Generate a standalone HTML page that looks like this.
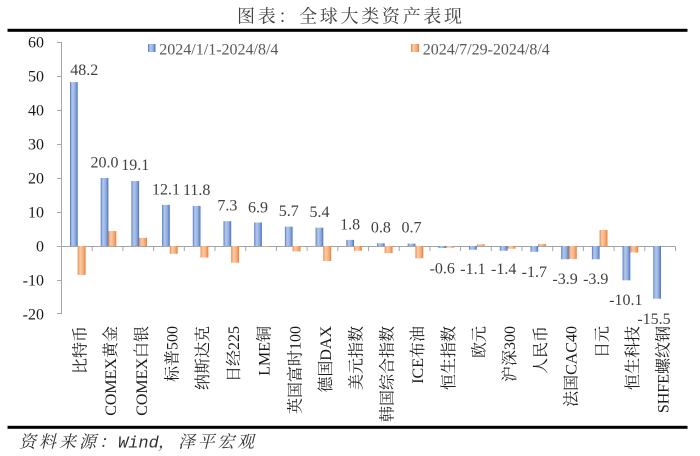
<!DOCTYPE html>
<html><head><meta charset="utf-8"><style>
html,body{margin:0;padding:0;background:#fff;}
svg{display:block;}
</style></head><body>
<svg width="700" height="456" viewBox="0 0 700 456" xmlns="http://www.w3.org/2000/svg">
<defs>
<linearGradient id="gb" x1="0" y1="0" x2="1" y2="0">
<stop offset="0" stop-color="#4472C4"/><stop offset="0.18" stop-color="#9BB4E3"/><stop offset="0.35" stop-color="#B4C7EA"/><stop offset="0.7" stop-color="#8EA9DB"/><stop offset="1" stop-color="#4472C4"/>
</linearGradient>
<linearGradient id="go" x1="0" y1="0" x2="1" y2="0">
<stop offset="0" stop-color="#ED7D31"/><stop offset="0.18" stop-color="#F7B88C"/><stop offset="0.35" stop-color="#F9C9A6"/><stop offset="0.7" stop-color="#F4AC7A"/><stop offset="1" stop-color="#ED7D31"/>
</linearGradient>
</defs>
<rect width="700" height="456" fill="#fff"/>
<!-- title -->
<text x="237" y="22.5" font-family="'Noto Serif CJK SC','Noto Sans CJK SC',serif" font-size="18" fill="#404040" textLength="225" lengthAdjust="spacing">图表：全球大类资产表现</text>
<rect x="7.5" y="28.8" width="680" height="3" fill="#000"/>
<!-- axes -->
<g stroke="#A6A6A6" stroke-width="1" fill="none">
<line x1="61.5" y1="42" x2="61.5" y2="314"/>
<line x1="57" y1="42.5" x2="61.5" y2="42.5"/>
<line x1="57" y1="76.5" x2="61.5" y2="76.5"/>
<line x1="57" y1="110.5" x2="61.5" y2="110.5"/>
<line x1="57" y1="144.5" x2="61.5" y2="144.5"/>
<line x1="57" y1="178.5" x2="61.5" y2="178.5"/>
<line x1="57" y1="212.5" x2="61.5" y2="212.5"/>
<line x1="57" y1="246.5" x2="61.5" y2="246.5"/>
<line x1="57" y1="280.5" x2="61.5" y2="280.5"/>
<line x1="57" y1="313.5" x2="61.5" y2="313.5"/>
<line x1="61" y1="246.5" x2="675.5" y2="246.5"/>
<path d="M92.2 246.5v4.5M122.9 246.5v4.5M153.6 246.5v4.5M184.3 246.5v4.5M215 246.5v4.5M245.7 246.5v4.5M276.4 246.5v4.5M307.1 246.5v4.5M337.8 246.5v4.5M368.5 246.5v4.5M399.2 246.5v4.5M429.9 246.5v4.5M460.6 246.5v4.5M491.3 246.5v4.5M522 246.5v4.5M552.7 246.5v4.5M583.4 246.5v4.5M614.1 246.5v4.5M644.8 246.5v4.5M675.5 246.5v4.5"/>
</g>
<!-- y tick labels -->
<g font-family="'Liberation Serif',serif" font-size="16" fill="#1a1a1a" text-anchor="end">
<text x="44" y="47.5">60</text>
<text x="44" y="81.5">50</text>
<text x="44" y="115.5">40</text>
<text x="44" y="149.5">30</text>
<text x="44" y="183.5">20</text>
<text x="44" y="217.5">10</text>
<text x="44" y="251.5">0</text>
<text x="44" y="285.5">-10</text>
<text x="44" y="319.5">-20</text>
</g>
<!-- blue bars -->
<g fill="url(#gb)">
<rect x="70" y="82.12" width="7.7" height="163.88"/>
<rect x="100.7" y="178" width="7.7" height="68"/>
<rect x="131.4" y="181.06" width="7.7" height="64.94"/>
<rect x="162.1" y="204.86" width="7.7" height="41.14"/>
<rect x="192.8" y="205.88" width="7.7" height="40.12"/>
<rect x="223.5" y="221.18" width="7.7" height="24.82"/>
<rect x="254.2" y="222.54" width="7.7" height="23.46"/>
<rect x="284.9" y="226.62" width="7.7" height="19.38"/>
<rect x="315.6" y="227.64" width="7.7" height="18.36"/>
<rect x="346.3" y="239.88" width="7.7" height="6.12"/>
<rect x="377" y="243.28" width="7.7" height="2.72"/>
<rect x="407.7" y="243.62" width="7.7" height="2.38"/>
<rect x="438.4" y="246" width="7.7" height="2.04"/>
<rect x="469.1" y="246" width="7.7" height="3.74"/>
<rect x="499.8" y="246" width="7.7" height="4.76"/>
<rect x="530.5" y="246" width="7.7" height="5.78"/>
<rect x="561.2" y="246" width="7.7" height="13.26"/>
<rect x="591.9" y="246" width="7.7" height="13.26"/>
<rect x="622.6" y="246" width="7.7" height="34.34"/>
<rect x="653.3" y="246" width="7.7" height="52.7"/>
</g>
<!-- orange bars -->
<g fill="url(#go)">
<rect x="77.7" y="246" width="7.9" height="28.9"/>
<rect x="108.4" y="231.04" width="7.9" height="14.96"/>
<rect x="139.1" y="237.84" width="7.9" height="8.16"/>
<rect x="169.8" y="246" width="7.9" height="7.82"/>
<rect x="200.5" y="246" width="7.9" height="11.56"/>
<rect x="231.2" y="246" width="7.9" height="16.66"/>
<rect x="261.9" y="246" width="7.9" height="0.6"/>
<rect x="292.6" y="246" width="7.9" height="5.44"/>
<rect x="323.3" y="246" width="7.9" height="14.96"/>
<rect x="354" y="246" width="7.9" height="4.76"/>
<rect x="384.7" y="246" width="7.9" height="7.14"/>
<rect x="415.4" y="246" width="7.9" height="12.24"/>
<rect x="446.1" y="246" width="7.9" height="1.7"/>
<rect x="476.8" y="244.3" width="7.9" height="1.7"/>
<rect x="507.5" y="246" width="7.9" height="2.72"/>
<rect x="538.2" y="243.96" width="7.9" height="2.04"/>
<rect x="568.9" y="246" width="7.9" height="12.92"/>
<rect x="599.6" y="230.02" width="7.9" height="15.98"/>
<rect x="630.3" y="246" width="7.9" height="6.46"/>
</g>
<!-- data labels -->
<g font-family="'Liberation Serif',serif" font-size="16" fill="#404040" text-anchor="middle">
<text x="84.2" y="75">48.2</text>
<text x="104.55" y="167.5">20.0</text>
<text x="135.25" y="170">19.1</text>
<text x="165.95" y="194.4">12.1</text>
<text x="196.65" y="195.2">11.8</text>
<text x="227.35" y="210.7">7.3</text>
<text x="258.05" y="212.3">6.9</text>
<text x="288.75" y="216">5.7</text>
<text x="319.45" y="216.8">5.4</text>
<text x="350.15" y="229.4">1.8</text>
<text x="380.85" y="232.5">0.8</text>
<text x="411.55" y="232.7">0.7</text>
<text x="442.25" y="273.6">-0.6</text>
<text x="472.95" y="273.8">-1.1</text>
<text x="503.65" y="274">-1.4</text>
<text x="534.35" y="277">-1.7</text>
<text x="565.05" y="283.8">-3.9</text>
<text x="595.75" y="283.8">-3.9</text>
<text x="625.8" y="304.8">-10.1</text>
<text x="654" y="323.8">-15.5</text>
</g>
<!-- legend -->
<rect x="148" y="44" width="7.5" height="8" fill="url(#gb)"/>
<text x="159.3" y="54.5" font-family="'Liberation Serif',serif" font-size="16" fill="#595959">2024/1/1-2024/8/4</text>
<rect x="411" y="44" width="8" height="8" fill="url(#go)"/>
<text x="422.7" y="54.5" font-family="'Liberation Serif',serif" font-size="16" fill="#595959">2024/7/29-2024/8/4</text>
<!-- category labels -->
<g font-family="'Liberation Serif','Noto Serif CJK SC',serif" font-size="16" fill="#1a1a1a" text-anchor="end">
<text transform="translate(85.4,326) rotate(-90)">比特币</text>
<text transform="translate(116.1,326) rotate(-90)">COMEX黄金</text>
<text transform="translate(146.8,326) rotate(-90)">COMEX白银</text>
<text transform="translate(177.5,326) rotate(-90)">标普500</text>
<text transform="translate(208.2,326) rotate(-90)">纳斯达克</text>
<text transform="translate(238.9,326) rotate(-90)">日经225</text>
<text transform="translate(269.6,326) rotate(-90)">LME铜</text>
<text transform="translate(300.3,326) rotate(-90)">英国富时100</text>
<text transform="translate(331,326) rotate(-90)">德国DAX</text>
<text transform="translate(361.7,326) rotate(-90)">美元指数</text>
<text transform="translate(392.4,326) rotate(-90)">韩国综合指数</text>
<text transform="translate(423.1,326) rotate(-90)">ICE布油</text>
<text transform="translate(453.8,326) rotate(-90)">恒生指数</text>
<text transform="translate(484.5,326) rotate(-90)">欧元</text>
<text transform="translate(515.2,326) rotate(-90)">沪深300</text>
<text transform="translate(545.9,326) rotate(-90)">人民币</text>
<text transform="translate(576.6,326) rotate(-90)">法国CAC40</text>
<text transform="translate(607.3,326) rotate(-90)">日元</text>
<text transform="translate(638,326) rotate(-90)">恒生科技</text>
<text transform="translate(668.7,326) rotate(-90)">SHFE螺纹钢</text>
</g>
<!-- bottom rule & source -->
<rect x="7.5" y="425.8" width="680" height="3" fill="#000"/>
<g font-size="17" fill="#333" font-style="italic">
<text x="19" y="447.5" font-family="'Noto Serif CJK SC',serif" textLength="97" lengthAdjust="spacing">资料来源：</text>
<text x="118" y="447.5" font-family="'Liberation Mono',monospace">Wind</text>
<text x="158" y="447.5" font-family="'Noto Serif CJK SC',serif">，</text>
<text x="178" y="447.5" font-family="'Noto Serif CJK SC',serif" textLength="76" lengthAdjust="spacing">泽平宏观</text>
</g>
</svg>
</body></html>
